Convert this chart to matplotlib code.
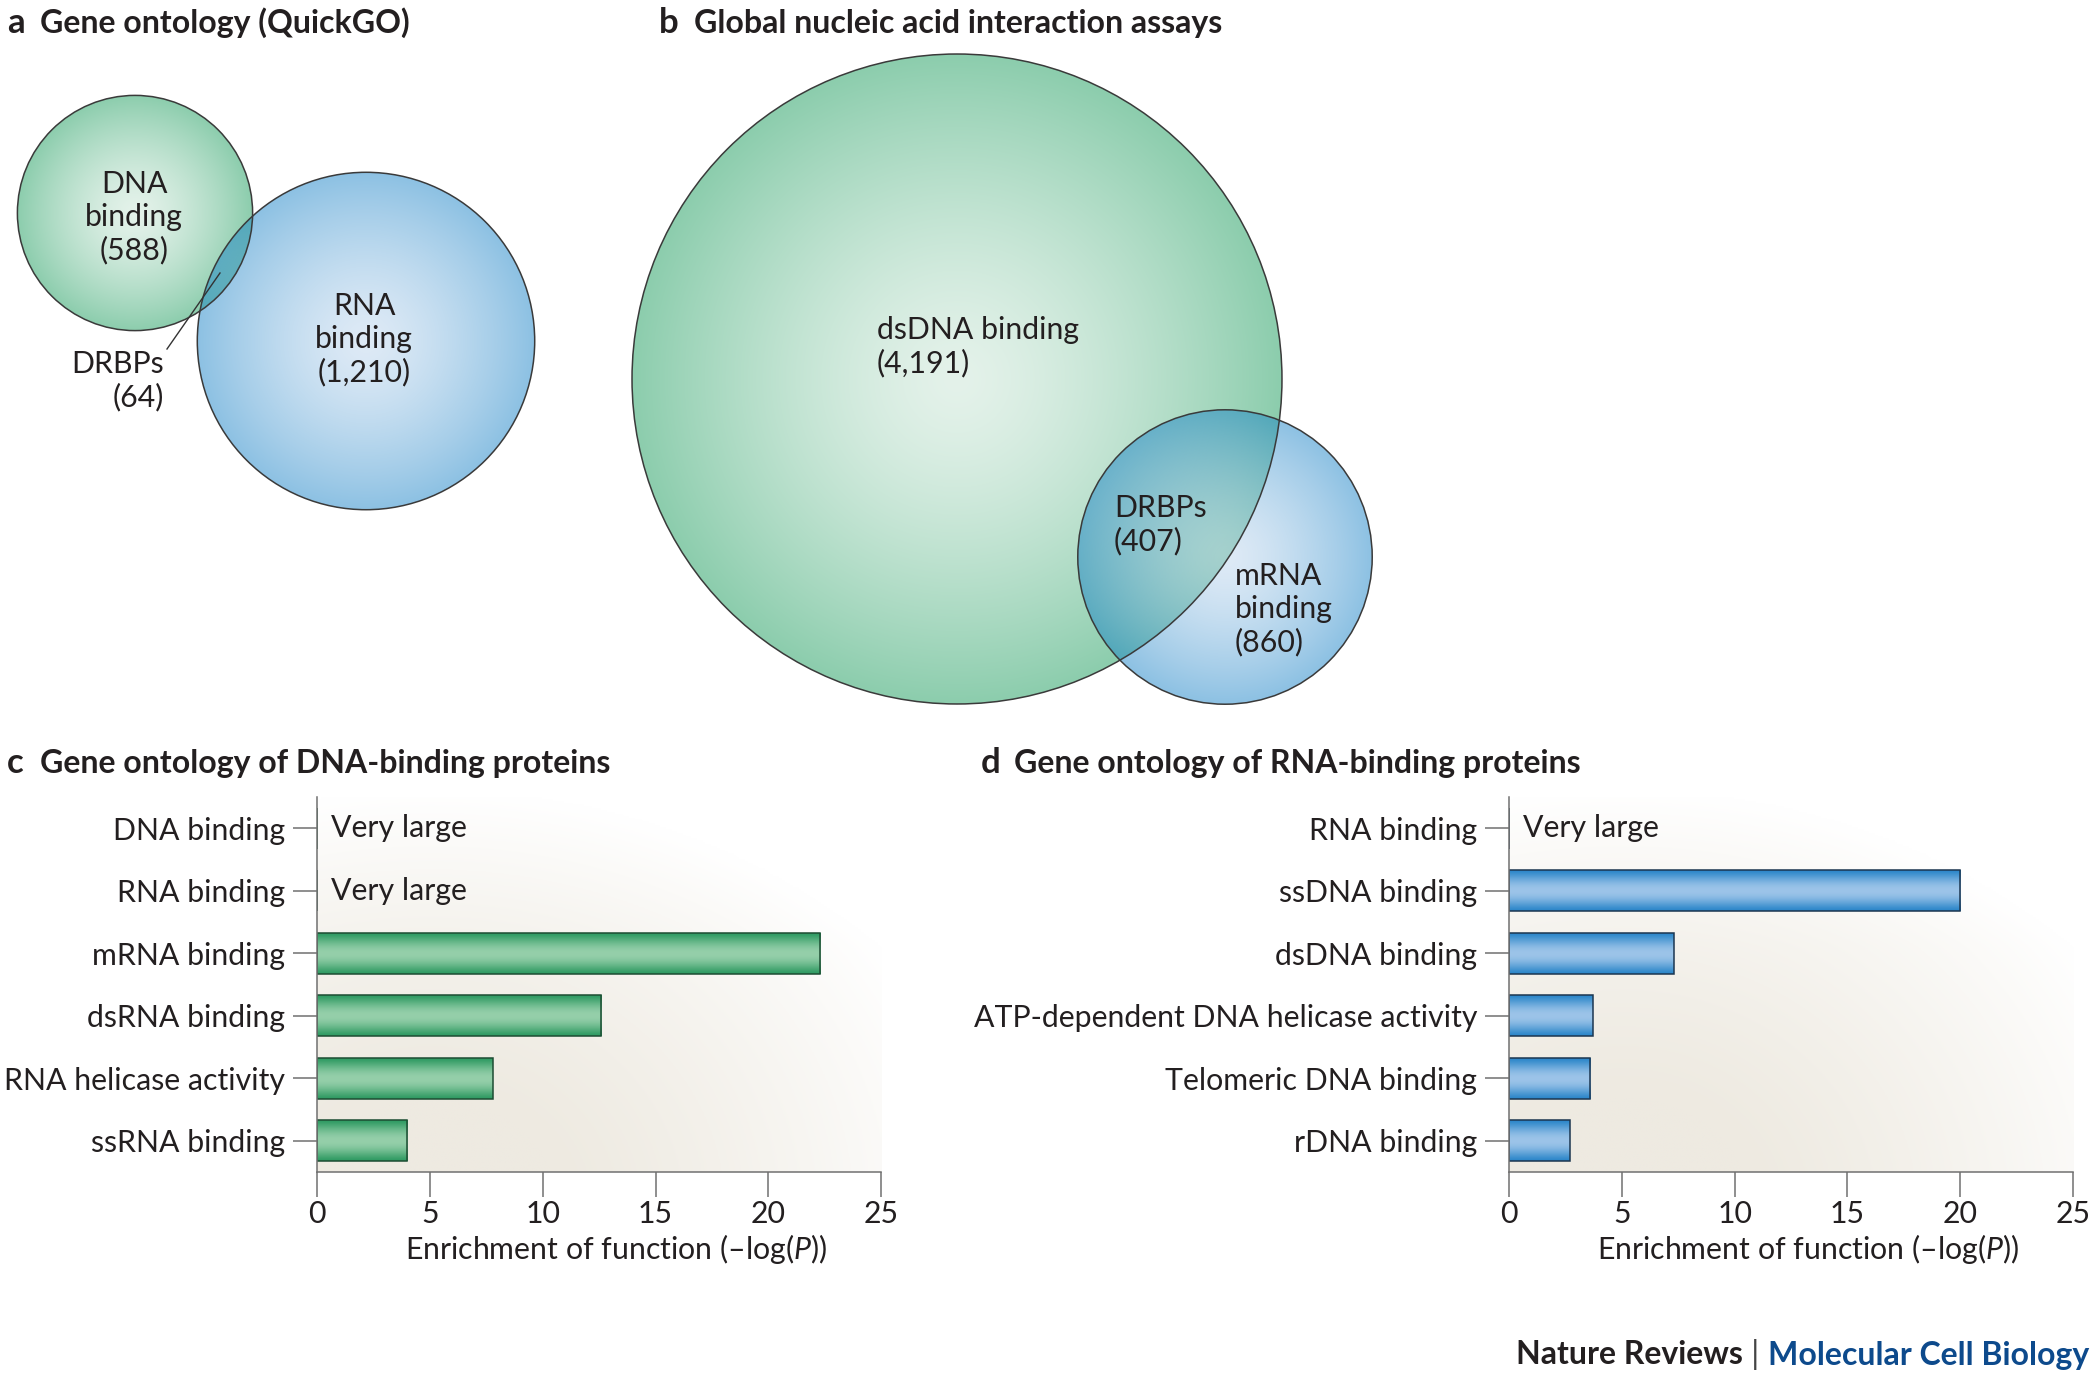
import numpy as np
import matplotlib
matplotlib.use("Agg")
import matplotlib.pyplot as plt
from matplotlib.patches import Circle
from matplotlib.colors import to_rgb

plt.rcParams['font.family'] = ['Lato', 'DejaVu Sans']
plt.rcParams['mathtext.fontset'] = 'custom'
plt.rcParams['mathtext.rm'] = 'Lato'
plt.rcParams['mathtext.it'] = 'Lato:italic'

# ---- data ----
venn_a_counts = [588, 1210, 64]          # DNA binding, RNA binding, overlap
venn_a_labels = ['DNA\nbinding', 'RNA\nbinding', 'DRBPs']
venn_b_counts = [4191, 860, 407]         # dsDNA binding, mRNA binding, overlap
venn_b_labels = ['dsDNA binding', 'mRNA\nbinding', 'DRBPs']

dna_terms = ['DNA binding', 'RNA binding', 'mRNA binding', 'dsRNA binding',
             'RNA helicase activity', 'ssRNA binding']
dna_enrich = [np.nan, np.nan, 22.3, 12.6, 7.8, 4.0]

rna_terms = ['RNA binding', 'ssDNA binding', 'dsDNA binding',
             'ATP-dependent DNA helicase activity', 'Telomeric DNA binding',
             'rDNA binding']
rna_enrich = [np.nan, 20.0, 7.3, 3.7, 3.6, 2.7]

x_ticks = [0, 5, 10, 15, 20, 25]

# ---- style ----
W, H = 2100, 1381
FS = 21.8
TFS = 23
GREEN_IN, GREEN_OUT = '#e4f2ea', '#8ccdad'
BLUE_IN, BLUE_OUT = '#deeaf6', '#8cc1e3'
BLUE_ALPHA = 0.5
AXIS_GRAY = '#707070'
TXT = '#231f20'

fig = plt.figure(figsize=(W / 100, H / 100), dpi=100)
canvas = fig.add_axes([0, 0, 1, 1])
canvas.set_xlim(0, W)
canvas.set_ylim(H, 0)
canvas.axis('off')


def fmt(n):
    return f'({n:,})'


def radial_fill(ax, cx, cy, r, inner, outer, alpha=1.0):
    n = 300
    g = np.linspace(-1, 1, n)
    xx, yy = np.meshgrid(g, g)
    t = np.clip(np.sqrt(xx ** 2 + yy ** 2), 0, 1) ** 1.4
    ci, co = np.array(to_rgb(inner)), np.array(to_rgb(outer))
    if alpha < 1:
        # colours given as seen on white, convert to the drawn colour
        ci = (ci - (1 - alpha)) / alpha
        co = (co - (1 - alpha)) / alpha
    img = np.zeros((n, n, 4))
    img[..., :3] = np.clip(ci + (co - ci) * t[..., None], 0, 1)
    img[..., 3] = alpha
    circ = Circle((cx, cy), r, fc='none', ec='#3a3a3a', lw=1.1, zorder=5)
    ax.add_patch(circ)
    im = ax.imshow(img, extent=(cx - r, cx + r, cy + r, cy - r),
                   aspect='auto', zorder=2, interpolation='bilinear')
    im.set_clip_path(circ)
    return circ


vtext = dict(fontsize=FS, linespacing=1.2, zorder=6, color=TXT, va='center')

# ---- panel a: Venn ----
ka = 4.85
ra = [ka * np.sqrt(c) for c in venn_a_counts[:2]]
radial_fill(canvas, 135, 213, ra[0], GREEN_IN, GREEN_OUT)
radial_fill(canvas, 366, 341, ra[1], BLUE_IN, BLUE_OUT, BLUE_ALPHA)
canvas.text(134, 217, f'{venn_a_labels[0]}\n{fmt(venn_a_counts[0])}',
            ha='center', **vtext)
canvas.text(364, 339, f'{venn_a_labels[1]}\n{fmt(venn_a_counts[1])}',
            ha='center', **vtext)
canvas.text(164, 381, f'{venn_a_labels[2]}\n{fmt(venn_a_counts[2])}',
            ha='right', multialignment='right', **vtext)
canvas.plot([167, 220], [349, 273], color='#333333', lw=1, zorder=6)

# ---- panel b: Venn ----
kb = 5.02
rb = [kb * np.sqrt(c) for c in venn_b_counts[:2]]
radial_fill(canvas, 957, 379, rb[0], GREEN_IN, GREEN_OUT)
radial_fill(canvas, 1225, 557, rb[1], BLUE_IN, BLUE_OUT, BLUE_ALPHA)
canvas.text(877, 347, f'{venn_b_labels[0]}\n{fmt(venn_b_counts[0])}',
            ha='left', **vtext)
canvas.text(1114, 525, f'{venn_b_labels[2]}\n{fmt(venn_b_counts[2])}',
            ha='left', **vtext)
canvas.text(1235, 609, f'{venn_b_labels[1]}\n{fmt(venn_b_counts[1])}',
            ha='left', **vtext)

# ---- panel titles ----
titles = [('a', 7, 40, 23, 'Gene ontology (QuickGO)'),
          ('b', 659, 694, 23, 'Global nucleic acid interaction assays'),
          ('c', 7, 40, 763, 'Gene ontology of DNA-binding proteins'),
          ('d', 981, 1014, 763, 'Gene ontology of RNA-binding proteins')]
for letter, xl, xt, y, txt in titles:
    canvas.text(xl, y, letter, fontsize=TFS + 2, fontweight='bold',
                va='center', color=TXT)
    canvas.text(xt, y, txt, fontsize=TFS, fontweight='bold', va='center',
                color=TXT)


# ---- bar panels ----
def bar_panel(rect, terms, values, dark, light, edge):
    ax = fig.add_axes(rect)
    # warm background wash, fading to white towards the right
    n = 200
    gx, gy = np.meshgrid(np.linspace(0, 1, n), np.linspace(1, 0, n))
    d = np.sqrt(((gx - 0.2) * 1.3) ** 2 + (gy + 0.1) ** 2)
    t = np.clip((d - 0.3) / 0.95, 0, 1) ** 1.2
    c0, c1 = np.array(to_rgb('#eeeae1')), np.array([1.0, 1.0, 1.0])
    top = np.clip(gy - 0.6, 0, 1)[..., None] * 0.4
    bg = c0 + (c1 - c0) * np.clip(t[..., None] + top, 0, 1)
    ax.imshow(bg, extent=(0, 1, 0, 1), transform=ax.transAxes,
              aspect='auto', zorder=0)

    y = np.arange(len(terms))
    vals = np.array(values, dtype=float)
    filled = np.nan_to_num(vals)
    bars = ax.barh(y, filled, height=0.65, color=dark, zorder=2)
    prof = np.sin(np.linspace(0, np.pi, 64)) ** 1.3
    cd, cl = np.array(to_rgb(dark)), np.array(to_rgb(light))
    grad = (cd + (cl - cd) * prof[:, None])[:, None, :]
    for b, v in zip(bars, vals):
        if np.isnan(v):
            continue
        x0, y0, w, h = b.get_x(), b.get_y(), b.get_width(), b.get_height()
        im = ax.imshow(grad, extent=(x0, x0 + w, y0 + h, y0), aspect='auto',
                       zorder=3, interpolation='bilinear')
        im.set_clip_path(b)
    ax.barh(y, filled, height=0.65, facecolor='none', edgecolor=edge,
            lw=1.1, zorder=4)
    for yi, v in zip(y, vals):
        if np.isnan(v):
            ax.text(0.6, yi, 'Very large', fontsize=FS, va='center',
                    color=TXT, zorder=5)

    ax.set_xlim(0, 25)
    ax.set_ylim(len(terms) - 0.5, -0.5)
    ax.set_xticks(x_ticks)
    ax.set_yticks(y)
    ax.set_yticklabels(terms)
    for s in ['top', 'right']:
        ax.spines[s].set_visible(False)
    for s in ['left', 'bottom']:
        ax.spines[s].set_color(AXIS_GRAY)
        ax.spines[s].set_linewidth(1.1)
        ax.spines[s].set_zorder(6)
    ax.tick_params(axis='y', length=17, width=1.1, color=AXIS_GRAY,
                   labelsize=FS, pad=6, labelcolor=TXT)
    ax.tick_params(axis='x', length=18, width=1.1, color=AXIS_GRAY,
                   labelsize=FS, pad=2, labelcolor=TXT)
    ax.set_xlabel('Enrichment of function (–log($P$))', fontsize=FS,
                  color=TXT)
    ax.xaxis.set_label_coords(0.53, -0.205)
    ax.xaxis.label.set_va('center')
    return ax


bar_panel([0.151, 0.1513, 0.2686, 0.2716], dna_terms, dna_enrich,
          '#2f9a62', '#95cfaa', '#1d4d33')
bar_panel([0.7186, 0.1513, 0.2686, 0.2716], rna_terms, rna_enrich,
          '#2b86c9', '#9cc4e9', '#1c3650')

# ---- footer ----
f3 = canvas.text(2089, 1355, 'Molecular Cell Biology', fontsize=TFS,
                 fontweight='bold', color='#0d4a8c', ha='right', va='center')
f2 = canvas.annotate(' | ', xy=(0, 0.5), xycoords=f3, ha='right', va='center',
                     fontsize=TFS, color='#444444')
canvas.annotate('Nature Reviews', xy=(0, 0.5), xycoords=f2, ha='right',
                va='center', fontsize=TFS, fontweight='bold', color=TXT)

fig.savefig('out.png', dpi=100, facecolor='white')
